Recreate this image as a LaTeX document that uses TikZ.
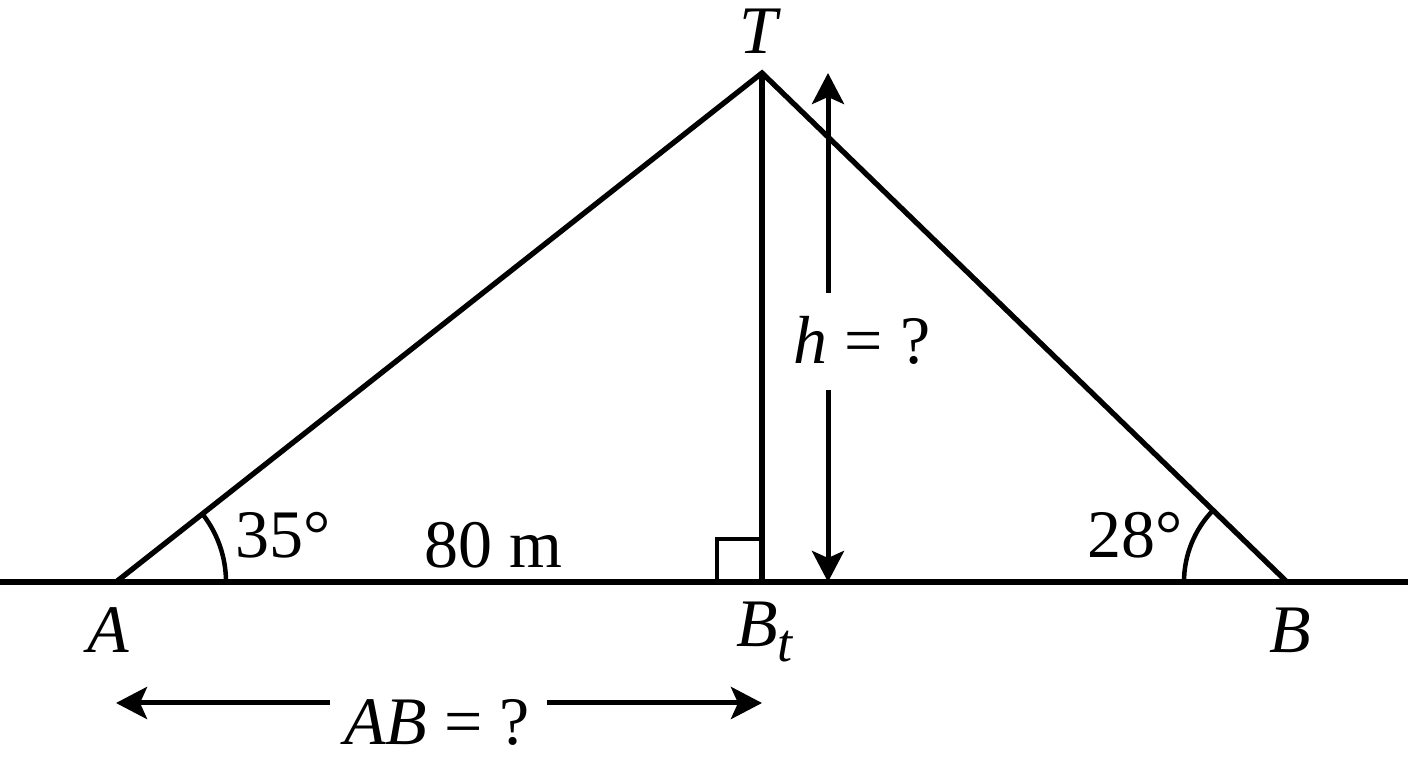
\documentclass[tikz,border=0pt]{standalone}
\usepackage{fontspec}
\setmainfont{Liberation Serif}
\usetikzlibrary{arrows.meta}
\begin{document}
\begin{tikzpicture}[x=1pt,y=1pt,
  line width=5.3pt,
  lbl/.style={inner sep=0pt,font=\fontsize{68}{80}\selectfont},
  arr/.style={line width=5pt,-{Stealth[length=31pt,width=32pt,inset=7pt]}},
  thin/.style={line width=4.5pt}]
\useasboundingbox (0,0) rectangle (1408,768);
% points
\coordinate (L) at (0,186);
\coordinate (R) at (1408,186);
\coordinate (A) at (116,186);
\coordinate (T) at (762,695);
\coordinate (Bt) at (762,186);
\coordinate (B) at (1287,186);
% ground and triangle
\draw (L) -- (R);
\draw[line join=miter] (A) -- (T) -- (B);
\draw (T) -- (Bt);
% right angle mark
\draw[thin] (717,186) -- (717,229) -- (762,229);
% angle arcs
\draw[thin] ([xshift=110pt]A) arc[start angle=0,end angle=38.2,radius=110pt];
\draw[thin] ([xshift=-103pt]B) arc[start angle=180,end angle=136,radius=103pt];
% labels
\node[lbl] (Tl) at (760,737) {\textit{T}};
\node[lbl] (Al) at (108,138) {\textit{A}};
\node[lbl] (Btl) at (765,136) {\textit{B}\raisebox{-15pt}{\fontsize{54}{60}\selectfont\textit{t}}};
\node[lbl] (Bl) at (1290,138) {\textit{B}};
\node[lbl] (a35) at (283,233) {35°};
\node[lbl] (d80) at (493,223) {80 m};
\node[lbl] (a28) at (1135,233) {28°};
% height arrow
\coordinate (htop) at (828,695);
\coordinate (hbot) at (828,186);
\coordinate (hg1) at (828,475);
\coordinate (hg2) at (828,378);
\node[lbl] (hl) at (862,428) {\textit{h} = ?};
\draw[arr] (hg1) -- (htop);
\draw[arr] (hg2) -- (hbot);
% AB arrow
\coordinate (abL) at (116,65);
\coordinate (abR) at (762,65);
\coordinate (ag1) at (330,65);
\coordinate (ag2) at (547,65);
\node[lbl] (abl) at (437,46) {\textit{AB} = ?};
\draw[arr] (ag1) -- (abL);
\draw[arr] (ag2) -- (abR);
\end{tikzpicture}
\end{document}
